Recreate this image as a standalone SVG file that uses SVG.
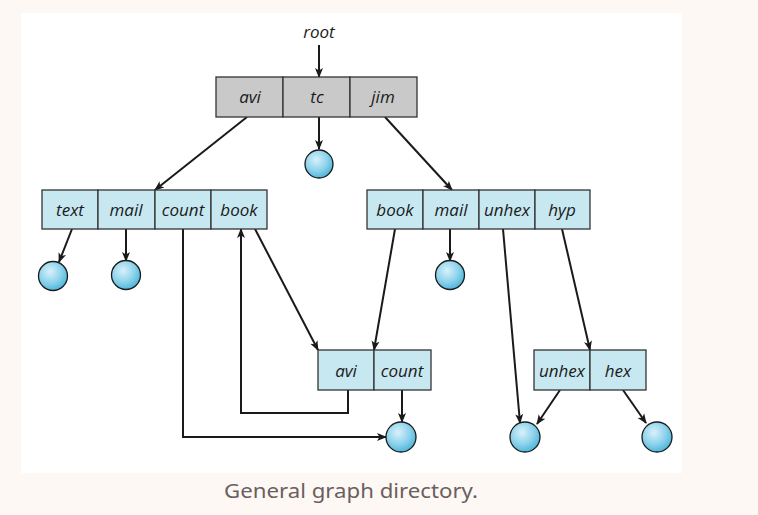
<svg xmlns="http://www.w3.org/2000/svg" width="758" height="515" viewBox="0 0 758 515">
<defs>
<radialGradient id="ball" cx="0.4" cy="0.35" r="0.7">
<stop offset="0" stop-color="#d8f1fa"/>
<stop offset="0.55" stop-color="#8fd3ec"/>
<stop offset="1" stop-color="#45b3d8"/>
</radialGradient>
<marker id="ah" markerWidth="10" markerHeight="10" refX="9" refY="5" orient="auto" markerUnits="userSpaceOnUse">
<path d="M0,1 L10,5 L0,9 L2.5,5 Z" fill="#1a1a1a"/>
</marker>
</defs>
<style>
.cell{fill:#c8e8f1;stroke:#333;stroke-width:1.3}
.gcell{fill:#c9c9c9;stroke:#333;stroke-width:1.3}
.lbl{font-family:"Open Sans","Liberation Sans",sans-serif;font-style:italic;font-size:17px;fill:#1a1a1a;text-anchor:middle}
.ball{fill:url(#ball);stroke:#1a1a1a;stroke-width:1.3}
.edge{fill:none;stroke:#1a1a1a;stroke-width:2;marker-end:url(#ah)}
</style>
<rect x="0" y="0" width="758" height="515" fill="#fdf8f4"/>
<rect x="21" y="13" width="661" height="460" fill="#ffffff"/>
<text x="319" y="38" class="lbl">root</text>
<g id="connectors">
<line x1="319" y1="45" x2="319" y2="77" class="edge"/>
<line x1="319" y1="117" x2="319" y2="149" class="edge"/>
<line x1="247" y1="117" x2="155" y2="190" class="edge"/>
<line x1="385" y1="117" x2="452" y2="190" class="edge"/>
<line x1="72" y1="229" x2="59" y2="262" class="edge"/>
<line x1="126" y1="229" x2="126" y2="261" class="edge"/>
<line x1="450" y1="229" x2="450" y2="261" class="edge"/>
<polyline points="183,229 183,437 386,437" class="edge"/>
<polyline points="348,390 348,413 241,413 241,229" class="edge"/>
<line x1="255" y1="229" x2="318" y2="350" class="edge"/>
<line x1="395" y1="229" x2="374" y2="350" class="edge"/>
<line x1="402" y1="390" x2="402" y2="422" class="edge"/>
<line x1="503" y1="229" x2="520" y2="423" class="edge"/>
<line x1="562" y1="229" x2="590" y2="350" class="edge"/>
<line x1="560" y1="390" x2="537" y2="424" class="edge"/>
<line x1="623" y1="390" x2="646" y2="423" class="edge"/>
</g>
<g id="root-dir">
<rect x="216" y="77" width="67" height="40" class="gcell"/>
<rect x="283" y="77" width="67" height="40" class="gcell"/>
<rect x="350" y="77" width="67" height="40" class="gcell"/>
<text x="250" y="103" class="lbl">avi</text>
<text x="317" y="103" class="lbl">tc</text>
<text x="383" y="103" class="lbl">jim</text>
</g>
<g id="tc-file"><circle cx="319" cy="164" r="14" class="ball"/></g>
<g id="avi-dir">
<rect x="42" y="190" width="56" height="39" class="cell"/>
<rect x="98" y="190" width="57" height="39" class="cell"/>
<rect x="155" y="190" width="56" height="39" class="cell"/>
<rect x="211" y="190" width="56" height="39" class="cell"/>
<text x="70" y="216" class="lbl">text</text>
<text x="126" y="216" class="lbl">mail</text>
<text x="183" y="216" class="lbl">count</text>
<text x="239" y="216" class="lbl">book</text>
</g>
<g id="jim-dir">
<rect x="367" y="190" width="56" height="39" class="cell"/>
<rect x="423" y="190" width="56" height="39" class="cell"/>
<rect x="479" y="190" width="56" height="39" class="cell"/>
<rect x="535" y="190" width="55" height="39" class="cell"/>
<text x="395" y="216" class="lbl">book</text>
<text x="451" y="216" class="lbl">mail</text>
<text x="507" y="216" class="lbl">unhex</text>
<text x="562" y="216" class="lbl">hyp</text>
</g>
<g id="text-file"><circle cx="53" cy="276" r="14.5" class="ball"/></g>
<g id="mail-file"><circle cx="126" cy="275" r="14.5" class="ball"/></g>
<g id="jmail-file"><circle cx="450" cy="275" r="14.5" class="ball"/></g>
<g id="book-dir">
<rect x="318" y="350" width="56" height="40" class="cell"/>
<rect x="374" y="350" width="57" height="40" class="cell"/>
<text x="346" y="377" class="lbl">avi</text>
<text x="402" y="377" class="lbl">count</text>
</g>
<g id="count-file"><circle cx="401" cy="437" r="15" class="ball"/></g>
<g id="hyp-dir">
<rect x="534" y="350" width="56" height="40" class="cell"/>
<rect x="590" y="350" width="56" height="40" class="cell"/>
<text x="562" y="377" class="lbl">unhex</text>
<text x="618" y="377" class="lbl">hex</text>
</g>
<g id="unhex-file"><circle cx="525" cy="437" r="15" class="ball"/></g>
<g id="hex-file"><circle cx="657" cy="437" r="15" class="ball"/></g>
<text x="224" y="498" font-family="'Noto Sans','Liberation Sans',sans-serif" font-size="20" fill="#6b5e5e" textLength="254" lengthAdjust="spacingAndGlyphs">General graph directory.</text>
</svg>
